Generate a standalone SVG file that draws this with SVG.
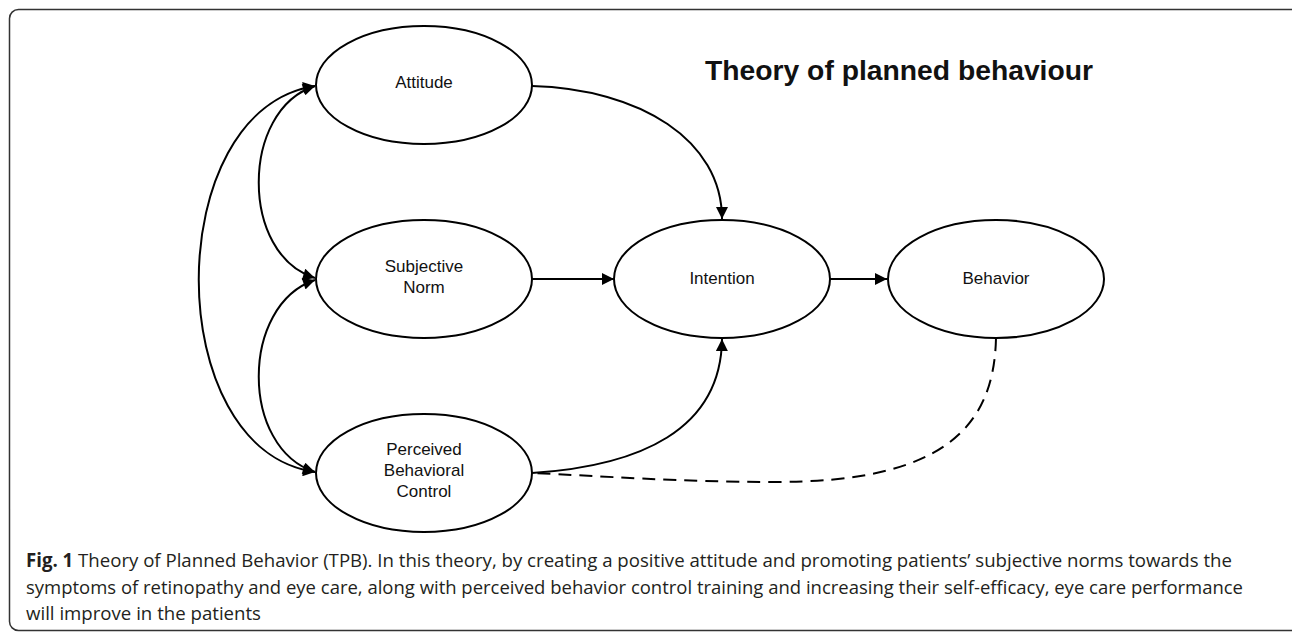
<svg xmlns="http://www.w3.org/2000/svg" width="1292" height="632" viewBox="0 0 1292 632">
  <style>
    .node ellipse { fill: #fff; stroke: #000; stroke-width: 2; }
    .lbl { font-family: "Liberation Sans", Arial, sans-serif; font-size: 17px; fill: #111; text-anchor: middle; }
    .edge { fill: none; stroke: #000; stroke-width: 2; }
    .dash { stroke-dasharray: 13 8; }
    .cap { font-family: "Open Sans", "Liberation Sans", sans-serif; font-size: 19px; fill: #231f20; }
  </style>
  <defs>
    <marker id="arr" viewBox="0 0 10 10" refX="10" refY="5" markerUnits="userSpaceOnUse" markerWidth="15" markerHeight="12" orient="auto-start-reverse">
      <path d="M0,0 L10,5 L0,10 z" fill="#000"/>
    </marker>
  </defs>
  <rect x="9.5" y="9.5" width="1290" height="621" rx="9" fill="#fff" stroke="#333" stroke-width="1.5"/>

  <text x="705" y="80" font-family="Liberation Sans, Arial, sans-serif" font-size="28" font-weight="bold" fill="#111" textLength="388" lengthAdjust="spacingAndGlyphs">Theory of planned behaviour</text>

  <g id="connectors">
    <path class="edge" d="M532,86 C640,89 722,140 722,219" marker-end="url(#arr)"/>
    <path class="edge" d="M532,279 L614,279" marker-end="url(#arr)"/>
    <path class="edge" d="M830,279 L887,279" marker-end="url(#arr)"/>
    <path class="edge" d="M532,473 C640,466 721,430 722,339" marker-end="url(#arr)"/>
    <path class="edge dash" d="M996,338 C994,430 940,482 775,482 C680,482 600,476 534,473"/>
    <path class="edge" d="M315,86 C240,110 240,255 315,278" marker-start="url(#arr)" marker-end="url(#arr)"/>
    <path class="edge" d="M315,280 C240,305 240,448 315,472" marker-start="url(#arr)" marker-end="url(#arr)"/>
    <path class="edge" d="M315,86 C160,110 160,450 315,472" marker-start="url(#arr)" marker-end="url(#arr)"/>
  </g>

  <g id="attitude" class="node">
    <ellipse cx="424" cy="85" rx="108" ry="59"/>
    <text class="lbl" x="424" y="88">Attitude</text>
  </g>
  <g id="subjective-norm" class="node">
    <ellipse cx="424" cy="279" rx="108" ry="59"/>
    <text class="lbl" x="424" y="272">Subjective</text>
    <text class="lbl" x="424" y="293">Norm</text>
  </g>
  <g id="pbc" class="node">
    <ellipse cx="424" cy="473" rx="108" ry="59"/>
    <text class="lbl" x="424" y="455">Perceived</text>
    <text class="lbl" x="424" y="476">Behavioral</text>
    <text class="lbl" x="424" y="497">Control</text>
  </g>
  <g id="intention" class="node">
    <ellipse cx="722" cy="279" rx="108" ry="59"/>
    <text class="lbl" x="722" y="284">Intention</text>
  </g>
  <g id="behavior" class="node">
    <ellipse cx="996" cy="279" rx="108" ry="59"/>
    <text class="lbl" x="996" y="284">Behavior</text>
  </g>

  <g id="caption">
    <text class="cap" x="26" y="567" textLength="1206" lengthAdjust="spacingAndGlyphs"><tspan font-weight="bold">Fig. 1</tspan> Theory of Planned Behavior (TPB). In this theory, by creating a positive attitude and promoting patients’ subjective norms towards the</text>
    <text class="cap" x="26" y="594" textLength="1217" lengthAdjust="spacingAndGlyphs">symptoms of retinopathy and eye care, along with perceived behavior control training and increasing their self-efficacy, eye care performance</text>
    <text class="cap" x="26" y="620" textLength="235" lengthAdjust="spacingAndGlyphs">will improve in the patients</text>
  </g>
</svg>
